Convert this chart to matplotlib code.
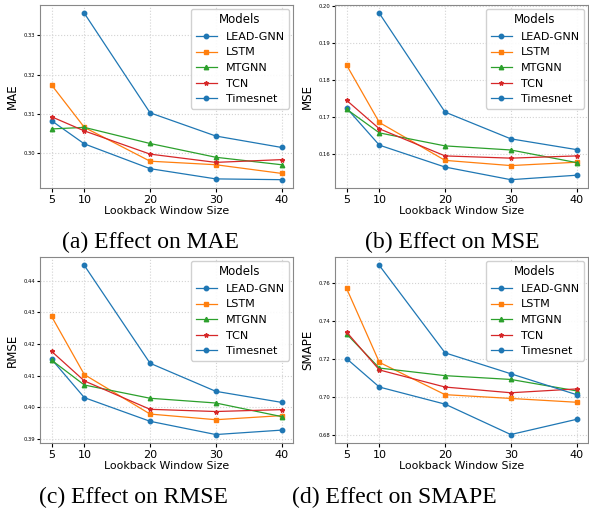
#!/usr/bin/env python3
"""
Lookback window sweep: MAE / MSE / RMSE / SMAPE for each model.
"""

import numpy as np
import matplotlib
matplotlib.use("Agg")
import matplotlib.pyplot as plt

windows = [5, 10, 20, 30, 40]
windows_timesnet = [10, 20, 30, 40]
models = ["LEAD-GNN", "LSTM", "MTGNN", "TCN", "Timesnet"]

mae_lead = [0.3083, 0.3024, 0.2961, 0.2935, 0.2933]
mae_lstm = [0.3174, 0.3066, 0.2980, 0.2971, 0.2949]
mae_mtgnn = [0.3062, 0.3066, 0.3025, 0.2990, 0.2971]
mae_tcn = [0.3093, 0.3057, 0.2998, 0.2977, 0.2984]
mae_timesnet = [0.3356, 0.3103, 0.3044, 0.3015]

mse_lead = [0.1724, 0.1624, 0.1565, 0.1531, 0.1543]
mse_lstm = [0.1840, 0.1685, 0.1583, 0.1569, 0.1578]
mse_mtgnn = [0.1721, 0.1657, 0.1622, 0.1611, 0.1577]
mse_tcn = [0.1745, 0.1668, 0.1595, 0.1589, 0.1595]
mse_timesnet = [0.1979, 0.1713, 0.1641, 0.1612]

rmse_lead = [0.4152, 0.4030, 0.3955, 0.3913, 0.3927]
rmse_lstm = [0.4288, 0.4103, 0.3978, 0.3960, 0.3973]
rmse_mtgnn = [0.4149, 0.4070, 0.4028, 0.4013, 0.3970]
rmse_tcn = [0.4177, 0.4083, 0.3993, 0.3986, 0.3992]
rmse_timesnet = [0.4449, 0.4139, 0.4050, 0.4015]

smape_lead = [0.720, 0.705, 0.696, 0.680, 0.688]
smape_lstm = [0.757, 0.718, 0.701, 0.699, 0.697]
smape_mtgnn = [0.733, 0.715, 0.711, 0.709, 0.703]
smape_tcn = [0.734, 0.714, 0.705, 0.702, 0.704]
smape_timesnet = [0.769, 0.723, 0.712, 0.701]

metrics = [
	("MAE", "(a) Effect on MAE", [mae_lead, mae_lstm, mae_mtgnn, mae_tcn, mae_timesnet]),
	("MSE", "(b) Effect on MSE", [mse_lead, mse_lstm, mse_mtgnn, mse_tcn, mse_timesnet]),
	("RMSE", "(c) Effect on RMSE", [rmse_lead, rmse_lstm, rmse_mtgnn, rmse_tcn, rmse_timesnet]),
	("SMAPE", "(d) Effect on SMAPE", [smape_lead, smape_lstm, smape_mtgnn, smape_tcn, smape_timesnet]),
]

colors = ["tab:blue", "tab:orange", "tab:green", "tab:red", "tab:blue"]
markers = ["o", "s", "^", "*", "o"]

W, H = 589, 509
# axes boxes in pixels: left, top, right, bottom
boxes = [(40, 5, 293, 188), (335, 5, 588, 188), (40, 257, 293, 443), (335, 257, 588, 443)]
# caption centres in pixels
captions = [(150, 242), (452, 242), (133, 497), (394, 497)]

fig = plt.figure(figsize=(W / 100, H / 100), dpi=100)

for (ylabel, caption, series), box, cap in zip(metrics, boxes, captions):
	l, t, r, b = box
	ax = fig.add_axes([l / W, 1 - b / H, (r - l) / W, (b - t) / H])
	for i, name in enumerate(models):
		xs = windows_timesnet if name == "Timesnet" else windows
		ax.plot(xs, series[i], color=colors[i], marker=markers[i], markersize=3.2, linewidth=0.9, label=name)
	ax.set_xticks(windows)
	ax.tick_params(axis="x", labelsize=8, length=3, pad=2)
	ax.tick_params(axis="y", labelsize=3.8, length=2, pad=1.5)
	ax.set_xlabel("Lookback Window Size", fontsize=7.9, labelpad=1)
	ax.set_ylabel(ylabel, fontsize=8.6, labelpad=3)
	ax.grid(True, linestyle=":", color="lightgray", linewidth=0.8)
	for spine in ax.spines.values():
		spine.set_color("#888888")
		spine.set_linewidth(0.8)
	ax.legend(title="Models", loc="upper right", fontsize=8, title_fontsize=8.5,
			  handlelength=1.9, borderpad=0.4, labelspacing=0.5, framealpha=0.9,
			  borderaxespad=0.35)
	fig.text(cap[0] / W, 1 - cap[1] / H, caption, family="Liberation Serif", fontsize=17,
			 ha="center", va="center")

fig.savefig("out.png", dpi=100)
